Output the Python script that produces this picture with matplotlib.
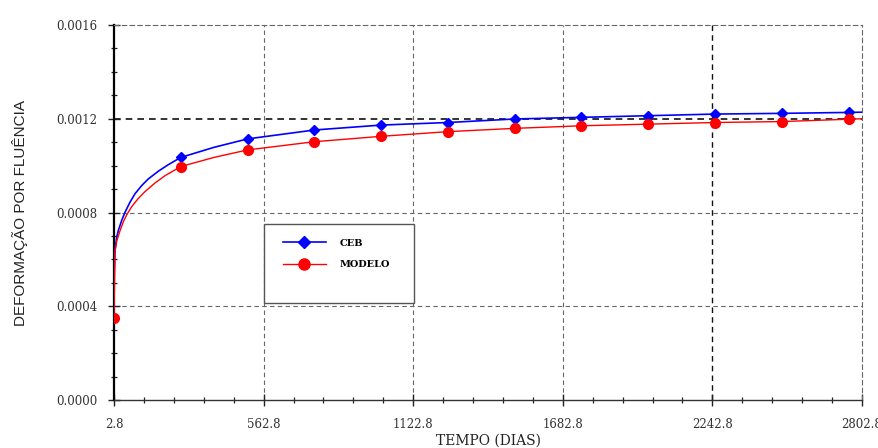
import matplotlib
matplotlib.use("Agg")
import matplotlib.pyplot as plt
from matplotlib.ticker import MultipleLocator, FixedLocator, FormatStrFormatter
from matplotlib.patches import Rectangle
from matplotlib.lines import Line2D

# Creep strain (deformação por fluência) vs. time in days
# Curve points for the CEB code prediction
ceb_days = [2.8, 4.0, 6.5, 12.9, 18.9, 31.6, 44.0, 62.7, 81.4, 106.5, 131.0, 168.6,
            206.0, 252.8, 377.0, 502.8, 752.8, 1002.8, 1252.8, 1502.8, 1752.8,
            2002.8, 2252.8, 2502.8, 2752.8, 2802.8]
ceb_strain = [0.00035, 0.00054, 0.000638, 0.000695, 0.000723, 0.000766, 0.000801,
              0.000844, 0.000880, 0.000915, 0.000943, 0.000976, 0.001004, 0.001035,
              0.001078, 0.001114, 0.001152, 0.001173, 0.001184, 0.001199, 0.001206,
              0.001213, 0.001220, 0.001223, 0.001227, 0.001228]

# Curve points for the model
modelo_days = [2.8, 6.0, 12.9, 25.3, 37.6, 50.3, 69.0, 93.8, 118.8, 156.3, 193.7,
               252.8, 377.0, 502.8, 752.8, 1002.8, 1252.8, 1502.8, 1752.8, 2002.8,
               2252.8, 2502.8, 2752.8, 2802.8]
modelo_strain = [0.00035, 0.00063, 0.000678, 0.000722, 0.000760, 0.000790, 0.000825,
                 0.000860, 0.000889, 0.000926, 0.000957, 0.000996, 0.001035, 0.001067,
                 0.001102, 0.001125, 0.001145, 0.001159, 0.001170, 0.001177, 0.001184,
                 0.001188, 0.001198, 0.001200]

# Marked points (every 250 days)
mark_days = [2.8, 252.8, 502.8, 752.8, 1002.8, 1252.8, 1502.8, 1752.8,
             2002.8, 2252.8, 2502.8, 2752.8]
ceb_marks = [0.00035, 0.001035, 0.001114, 0.001152, 0.001173, 0.001184,
             0.001199, 0.001206, 0.001213, 0.001220, 0.001223, 0.001227]
modelo_marks = [0.00035, 0.000996, 0.001067, 0.001102, 0.001125, 0.001145,
                0.001159, 0.001170, 0.001177, 0.001184, 0.001188, 0.001198]

x_ticks = [2.8, 562.8, 1122.8, 1682.8, 2242.8, 2802.8]
y_ticks = [0.0, 0.0004, 0.0008, 0.0012, 0.0016]
series_labels = ["CEB", "MODELO"]

BLUE = "#0000ff"
RED = "#ff0000"
serif = ["DejaVu Serif"]

fig = plt.figure(figsize=(8.79, 4.48), dpi=100)
ax = fig.add_axes([114 / 879, 1 - 400 / 448, 748 / 879, 375 / 448])

ax.set_xlim(x_ticks[0], x_ticks[-1])
ax.set_ylim(y_ticks[0], y_ticks[-1])

# dashed grid
for xv in x_ticks[1:-1]:
    dark = xv == 2242.8
    ax.axvline(xv, color="#111111" if dark else "#666666", ls=(0, (4, 3)),
               lw=1.0 if dark else 0.8, zorder=1)
for yv in y_ticks[1:-1]:
    dark = yv == 0.0012
    ax.axhline(yv, color="#111111" if dark else "#666666", ls=(0, (4, 3)),
               lw=1.2 if dark else 0.8, zorder=1)

for side in ("top", "right"):
    ax.spines[side].set_linestyle((0, (4, 3)))
    ax.spines[side].set_color("#666666")
    ax.spines[side].set_linewidth(0.8)
ax.spines["left"].set_linewidth(1.6)
ax.spines["bottom"].set_linewidth(1.0)
ax.spines["bottom"].set_color("#333333")

# curves
ax.plot(ceb_days, ceb_strain, color=BLUE, lw=1.2, zorder=3)
ax.plot(mark_days, ceb_marks, ls="none", marker="D", ms=5.5, color=BLUE, zorder=4)
ax.plot(modelo_days, modelo_strain, color=RED, lw=1.0, zorder=5)
ax.plot(mark_days, modelo_marks, ls="none", marker="o", ms=7, color=RED, zorder=6)

# ticks
ax.xaxis.set_major_locator(FixedLocator(x_ticks))
ax.xaxis.set_minor_locator(FixedLocator(
    [x_ticks[0] + 112 * i for i in range(26) if i % 5 != 0]))
ax.xaxis.set_major_formatter(FormatStrFormatter("%.1f"))
ax.yaxis.set_major_locator(FixedLocator(y_ticks))
ax.yaxis.set_minor_locator(MultipleLocator(0.0001))
ax.yaxis.set_major_formatter(FormatStrFormatter("%.4f"))
ax.tick_params(which="major", direction="inout", length=8, width=1.0, color="#222222")
ax.tick_params(which="minor", direction="inout", length=5, width=0.9, color="#222222")
ax.tick_params(axis="y", which="major", pad=8)
ax.tick_params(axis="x", which="major", pad=9)
for lab in ax.get_xticklabels() + ax.get_yticklabels():
    lab.set_family(serif)
    lab.set_fontsize(8.5)
    lab.set_color("#333333")

ax.set_xlabel("TEMPO (DIAS)", family=serif, fontsize=10, color="#222222", labelpad=2)
ax.set_ylabel("DEFORMAÇÃO POR FLUÊNCIA", family=["Liberation Sans"], fontsize=11,
              color="#222222", labelpad=20)

# legend with a square frame
ax.add_patch(Rectangle((0.2005, 0.2587), 0.2005, 0.2106, transform=ax.transAxes,
                       fill=True, facecolor="white", edgecolor="#555555", lw=1.0, zorder=7))
handles = [
    Line2D([], [], color=BLUE, lw=1.2, marker="D", ms=6, label=series_labels[0]),
    Line2D([], [], color=RED, lw=1.0, marker="o", ms=8, label=series_labels[1]),
]
leg = ax.legend(handles=handles, loc="upper left", bbox_to_anchor=(0.226, 0.43),
                frameon=False, prop={"family": serif, "size": 7, "weight": "bold"},
                handlelength=4.4, handletextpad=1.4, labelspacing=1.3,
                borderpad=0, borderaxespad=0)
leg.set_zorder(8)

fig.savefig("out.png", dpi=100)
